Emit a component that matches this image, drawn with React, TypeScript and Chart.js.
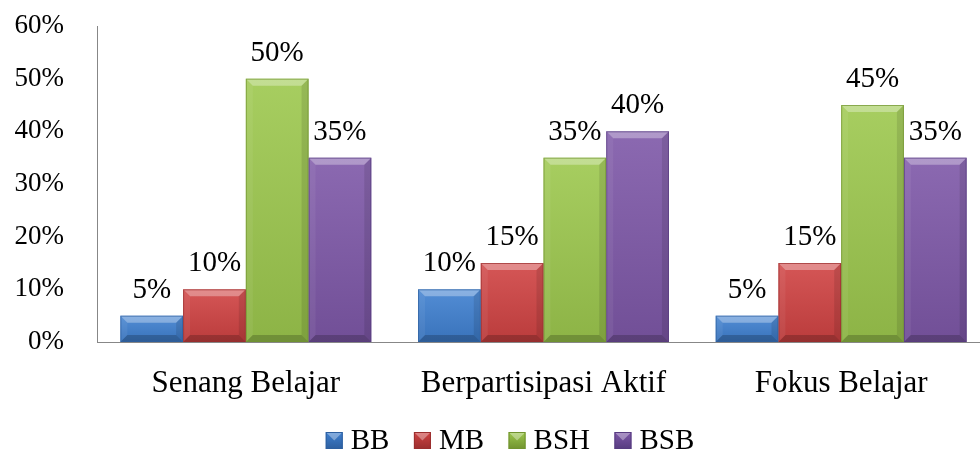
import React, { useEffect, useRef } from "react";
import { Chart, registerables } from "chart.js";

Chart.register(...registerables);

const categories = ["Senang Belajar", "Berpartisipasi Aktif", "Fokus Belajar"];
const seriesNames = ["BB", "MB", "BSH", "BSB"];
const bbValues = [5, 10, 5];
const mbValues = [10, 15, 15];
const bshValues = [50, 35, 45];
const bsbValues = [35, 40, 35];
const yTickMax = 60;
const yTickStep = 10;

const seriesColors = ["#3f80d0", "#d04343", "#9dc84e", "#7e58a8"];
const seriesEdges = ["#2d5f9f", "#9a2e2e", "#71932f", "#573c80"];

const FONT = "'Liberation Serif', 'Times New Roman', serif";

const bevelPlugin = {
  id: "bevelBars",
  afterDatasetsDraw(chart: any) {
    const ctx = chart.ctx;
    chart.data.datasets.forEach((ds: any, di: number) => {
      const meta = chart.getDatasetMeta(di);
      meta.data.forEach((bar: any, i: number) => {
        const p = bar.getProps(["x", "y", "base", "width"], true);
        const L = p.x - p.width / 2;
        const R = p.x + p.width / 2;
        const T = Math.min(p.y, p.base);
        const B = Math.max(p.y, p.base);
        const b = Math.min(7, (B - T) / 2, p.width / 2);
        const poly = (pts: number[][], fill: any) => {
          ctx.beginPath();
          ctx.moveTo(pts[0][0], pts[0][1]);
          for (let k = 1; k < pts.length; k++) ctx.lineTo(pts[k][0], pts[k][1]);
          ctx.closePath();
          ctx.fillStyle = fill;
          ctx.fill();
        };
        ctx.save();
        const g = ctx.createLinearGradient(0, T, 0, B);
        g.addColorStop(0, "rgba(255,255,255,0.10)");
        g.addColorStop(1, "rgba(0,0,0,0.10)");
        ctx.fillStyle = g;
        ctx.fillRect(L, T, p.width, B - T);
        poly([[L, T], [R, T], [R - b, T + b], [L + b, T + b]], "rgba(255,255,255,0.32)");
        poly([[L, T], [L + b, T + b], [L + b, B - b], [L, B]], "rgba(255,255,255,0.06)");
        poly([[R, T], [R - b, T + b], [R - b, B - b], [R, B]], "rgba(0,0,0,0.10)");
        poly([[L, B], [L + b, B - b], [R - b, B - b], [R, B]], "rgba(0,0,0,0.20)");
        ctx.strokeStyle = seriesEdges[di];
        ctx.globalAlpha = 0.7;
        ctx.lineWidth = 1;
        ctx.strokeRect(L + 0.5, T + 0.5, p.width - 1, B - T - 1);
        ctx.restore();

        const v = ds.data[i];
        ctx.save();
        ctx.font = `29px ${FONT}`;
        ctx.fillStyle = "#000";
        ctx.textAlign = "center";
        ctx.textBaseline = "alphabetic";
        ctx.fillText(`${v}%`, p.x, T - 18);
        ctx.restore();
      });
    });
  },
  afterDraw(chart: any) {
    const ctx = chart.ctx;
    ctx.save();
    ctx.font = `29px ${FONT}`;
    const box = 17;
    const gapText = 8;
    const gapItem = 24.5;
    const widths = seriesNames.map((n) => ctx.measureText(n).width);
    const total =
      widths.reduce((a, w) => a + w + box + gapText, 0) + gapItem * (seriesNames.length - 1);
    let x = 510 - total / 2;
    const baseline = 449;
    seriesNames.forEach((n, k) => {
      const by = 432;
      const grad = ctx.createLinearGradient(0, by, 0, by + box);
      grad.addColorStop(0, seriesColors[k]);
      grad.addColorStop(1, seriesEdges[k]);
      ctx.fillStyle = grad;
      ctx.fillRect(x, by, box, box);
      ctx.fillStyle = "rgba(255,255,255,0.35)";
      ctx.beginPath();
      ctx.moveTo(x, by);
      ctx.lineTo(x + box, by);
      ctx.lineTo(x + box / 2, by + box / 2);
      ctx.closePath();
      ctx.fill();
      ctx.strokeStyle = seriesEdges[k];
      ctx.lineWidth = 1;
      ctx.strokeRect(x + 0.5, by + 0.5, box - 1, box - 1);
      ctx.fillStyle = "#000";
      ctx.textAlign = "left";
      ctx.textBaseline = "alphabetic";
      ctx.fillText(n, x + box + gapText, baseline);
      x += box + gapText + widths[k] + gapItem;
    });
    ctx.restore();
  },
};

export default function App() {
  const canvasRef = useRef<HTMLCanvasElement | null>(null);

  useEffect(() => {
    const canvas = canvasRef.current;
    if (!canvas) return;
    const seriesValues = [bbValues, mbValues, bshValues, bsbValues];
    const chart = new Chart(canvas, {
      type: "bar",
      data: {
        labels: categories,
        datasets: seriesNames.map((name, k) => ({
          label: name,
          data: seriesValues[k],
          backgroundColor: seriesColors[k],
          borderWidth: 0,
          categoryPercentage: 0.843,
          barPercentage: 1,
        })),
      },
      options: {
        responsive: false,
        animation: false,
        devicePixelRatio: 1,
        layout: { padding: { left: 0, right: 0, top: 26, bottom: 0 } },
        plugins: {
          legend: { display: false },
          tooltip: { enabled: false },
        },
        scales: {
          x: {
            grid: { display: false, drawTicks: false },
            border: { display: true, color: "#878787", width: 1 },
            ticks: {
              font: { family: FONT, size: 31 },
              color: "#000",
              padding: 23,
              maxRotation: 0,
              autoSkip: false,
            },
            afterFit: (s: any) => {
              s.height = 108;
              s.paddingLeft = 0;
              s.paddingRight = 0;
            },
          },
          y: {
            min: 0,
            max: yTickMax,
            grid: { display: false, drawTicks: false },
            border: { display: true, color: "#878787", width: 1 },
            ticks: {
              stepSize: yTickStep,
              font: { family: FONT, size: 27 },
              color: "#000",
              padding: 33,
              callback: (v: any) => `${v}%`,
            },
            afterFit: (s: any) => {
              s.width = 97;
              s.paddingTop = 0;
              s.paddingBottom = 0;
            },
          },
        },
      },
      plugins: [bevelPlugin],
    });
    return () => chart.destroy();
  }, []);

  return (
    <div
      style={{
        position: "fixed",
        left: 0,
        top: 0,
        width: 980,
        height: 450,
        overflow: "hidden",
        background: "#fff",
      }}
    >
      <canvas ref={canvasRef} width={990} height={450} style={{ width: 990, height: 450, display: "block" }} />
    </div>
  );
}
